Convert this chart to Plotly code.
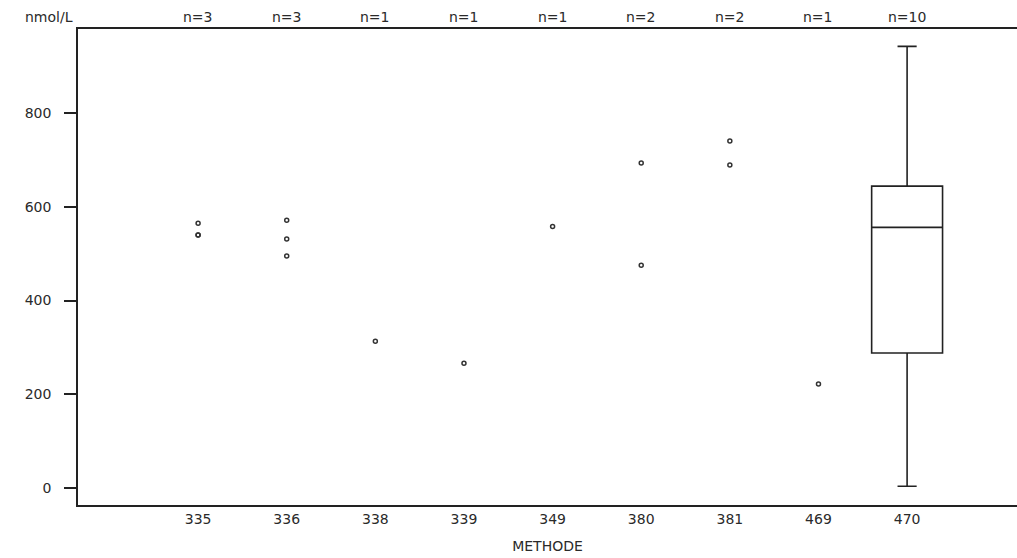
import plotly.graph_objects as go

# ---- data ----
categories = ["335", "336", "338", "339", "349", "380", "381", "469", "470"]
point_values = {
    "335": [565, 540, 540],
    "336": [571, 531, 495],
    "338": [313],
    "339": [266],
    "349": [558],
    "380": [693, 475],
    "381": [740, 689],
    "469": [222],
}
box_category = "470"
box_n = 10
box_q1 = [288]
box_median = [556]
box_q3 = [644]
box_low = [4]
box_high = [942]
y_ticks = [0, 200, 400, 600, 800]

counts = [len(point_values[c]) if c in point_values else box_n for c in categories]

px, py = [], []
for c in categories:
    for v in point_values.get(c, []):
        px.append(c)
        py.append(v)

FONT = "DejaVu Sans, Arial, sans-serif"
INK = "#222222"
TXT = "#2a2a2a"
FS = 14

fig = go.Figure()
fig.add_trace(go.Scatter(
    x=px, y=py, mode="markers",
    marker=dict(symbol="circle-open", size=4, color="#333333", line=dict(width=1.5)),
    showlegend=False, hoverinfo="y",
))
fig.add_trace(go.Box(
    x=[box_category], q1=box_q1, median=box_median, q3=box_q3,
    lowerfence=box_low, upperfence=box_high,
    width=0.8, whiskerwidth=0.27,
    fillcolor="white", line=dict(color=INK, width=1.6),
    boxpoints=False, showlegend=False,
))

for i, n in enumerate(counts):
    fig.add_annotation(x=i, y=1.025, xref="x", yref="paper", text=f"n={n}",
                       showarrow=False, font=dict(family=FONT, size=FS, color=TXT),
                       yanchor="middle")
fig.add_annotation(x=-3 / 939, y=1.025, xref="paper", yref="paper", text="nmol/L",
                   showarrow=False, xanchor="right", yanchor="middle",
                   font=dict(family=FONT, size=FS, color=TXT))

fig.update_layout(
    width=1017, height=558,
    margin=dict(l=78, r=0, t=29, b=53, autoexpand=False),
    plot_bgcolor="white", paper_bgcolor="white",
    font=dict(family=FONT, size=FS, color=TXT),
    xaxis=dict(
        type="category", categoryorder="array", categoryarray=categories,
        range=[-1.355, 9.24], showline=True, linecolor=INK, linewidth=1.6,
        mirror=True, ticks="", showgrid=False, zeroline=False,
        title=dict(text="METHODE", font=dict(family=FONT, size=FS, color=TXT), standoff=16),
        tickfont=dict(family=FONT, size=FS, color=TXT),
    ),
    yaxis=dict(
        range=[-36, 979], tickvals=y_ticks, showline=True, linecolor=INK, linewidth=1.6,
        ticks="outside", ticklen=12, tickwidth=1.6, tickcolor=INK,
        ticklabelstandoff=10,
        showgrid=False, zeroline=False,
        tickfont=dict(family=FONT, size=FS, color=TXT),
    ),
)

fig.write_html("out.html", config={"displayModeBar": False},
               post_script="document.body.style.margin='0';")
